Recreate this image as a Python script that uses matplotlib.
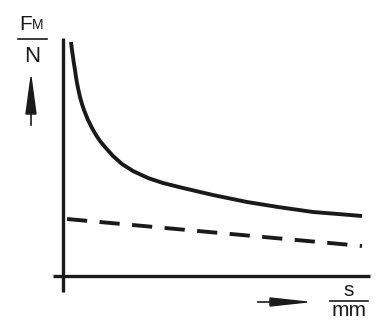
import matplotlib
matplotlib.use("Agg")
import matplotlib.pyplot as plt

# data (arbitrary units, origin at axis crossing)
solid_x = [8, 9, 10, 11, 12, 13, 14, 15, 17, 19, 21, 23, 25, 29, 33, 37, 42, 50, 59, 70,
           85, 100, 120, 150, 184, 215, 250, 275, 299]
solid_y = [234, 226, 219, 212, 206, 199, 193, 188, 179, 172, 166, 161, 156, 148, 141, 135,
           129, 120, 112, 105, 98, 93, 88, 81, 74, 69, 64, 62, 60]
dash_x = [4, 299]
dash_y = [57, 30]

fig = plt.figure(figsize=(3.78, 3.22), dpi=100)
ax = fig.add_axes([0, 0, 1, 1])
ax.set_xlim(-63, 315)
ax.set_ylim(-46, 276)
ax.axis("off")

k = "#1a1a1a"
# axes lines
ax.plot([0, 0], [-16, 238], color=k, lw=2.4, solid_capstyle="butt")
ax.plot([-10, 307], [0, 0], color=k, lw=2.4, solid_capstyle="butt")

# curves
ax.plot(solid_x, solid_y, color=k, lw=2.8, solid_capstyle="butt", solid_joinstyle="round")
ax.plot(dash_x, dash_y, color=k, lw=2.8, dashes=(5.2, 3.2), dash_capstyle="butt")

font = "Liberation Sans"
# y label
ax.text(-44, 246, "F", fontsize=15, family=font, color=k, ha="left", va="baseline")
ax.text(-31, 247, "M", fontsize=10, family=font, color=k, ha="left", va="baseline")
ax.plot([-45, -16], [237, 237], color=k, lw=1.2)
ax.text(-31, 214, "N", fontsize=16, family=font, color=k, ha="center", va="baseline")
ax.plot([-32, -32], [151, 170], color=k, lw=1.2)
ax.add_patch(plt.Polygon([[-37, 162], [-27, 162], [-32, 199]], closed=True, color=k))

# x label
ax.plot([195, 215], [-26, -26], color=k, lw=1.2)
ax.add_patch(plt.Polygon([[207, -22], [207, -30], [244, -26]], closed=True, color=k))
ax.text(286, -20, "s", fontsize=15, family=font, color=k, ha="center", va="baseline")
ax.plot([267, 305], [-25, -25], color=k, lw=1.2)
ax.text(286, -40, "mm", fontsize=15, family=font, color=k, ha="center", va="baseline")

fig.savefig("out.png", dpi=100)
